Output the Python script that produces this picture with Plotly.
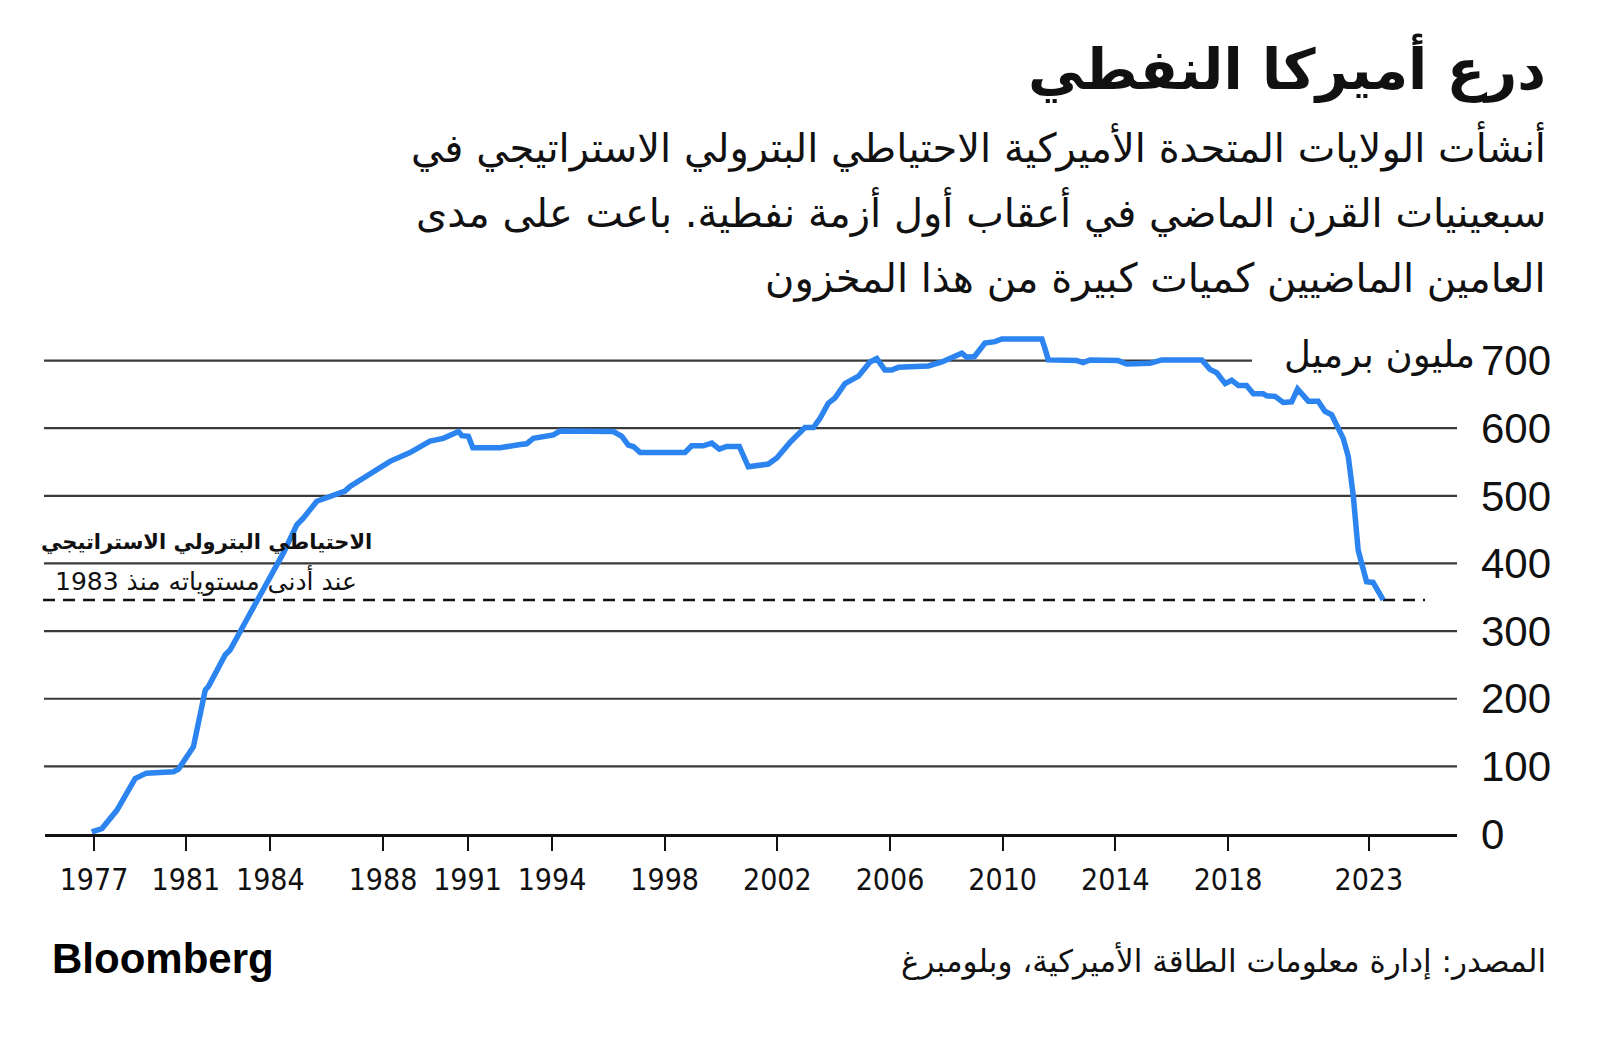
import plotly.graph_objects as go

# strategic petroleum reserve, million barrels
years = [
    1977.66, 1978.02, 1978.55, 1979.2, 1979.6, 1980.56, 1980.74, 1981.2, 1981.27, 1981.69,
    1981.8, 1982.4, 1982.57, 1983.28, 1983.52, 1984.1, 1984.47, 1984.94, 1985.17, 1985.65,
    1986.12, 1986.65, 1986.83, 1987.66, 1988.25, 1988.96, 1989.67, 1990.14, 1990.68, 1990.8,
    1991.03, 1991.19, 1992.16, 1992.87, 1993.1, 1993.34, 1994.05, 1994.29, 1996.18, 1996.48,
    1996.71, 1996.89, 1997.13, 1998.72, 1998.96, 1999.37, 1999.67, 1999.94, 2000.2, 2000.65,
    2000.97, 2001.68, 2001.98, 2002.45, 2002.98, 2003.28, 2003.52, 2003.81, 2004.05, 2004.4,
    2004.7, 2004.88, 2005.29, 2005.53, 2005.82, 2006.06, 2006.3, 2007.36, 2007.84, 2008.25,
    2008.55, 2008.72, 2009.0, 2009.37, 2009.73, 2009.97, 2011.39, 2011.5, 2011.62, 2012.63,
    2012.86, 2013.1, 2014.1, 2014.4, 2015.23, 2015.65, 2017.07, 2017.36, 2017.6, 2017.9,
    2018.13, 2018.37, 2018.66, 2018.9, 2019.25, 2019.37, 2019.67, 2019.96, 2020.26, 2020.47,
    2020.85, 2021.2, 2021.44, 2021.68, 2021.86, 2022.09, 2022.27, 2022.45, 2022.62, 2022.74,
    2022.92, 2023.15, 2023.51,
]
barrels = [
    3, 8, 35, 82, 90, 92, 96, 122, 129, 213,
    218, 265, 272, 326, 344, 390, 416, 457, 467, 492,
    500, 507, 514, 536, 551, 564, 581, 585, 595, 589,
    588, 571, 571, 576, 577, 585, 590, 596, 595, 588,
    575, 573, 564, 564, 574, 574, 578, 569, 573, 573,
    543, 547, 556, 579, 601, 601, 615, 637, 645, 666,
    674, 677, 698, 703, 686, 686, 690, 692, 698, 705,
    711, 705, 706, 726, 728, 732, 732, 718, 701, 700,
    697, 701, 700, 695, 696, 701, 701, 687, 682, 666,
    671, 663, 663, 651, 651, 648, 647, 638, 639, 658,
    640, 640, 625, 620, 603, 585, 558, 499, 420, 400,
    373, 372, 346,
]

x_tick_vals = [1977.74, 1981, 1984, 1988, 1991, 1994, 1998, 2002, 2006, 2010, 2014, 2018, 2023]
x_tick_text = ["1977", "1981", "1984", "1988", "1991", "1994", "1998", "2002", "2006", "2010", "2014", "2018", "2023"]
y_tick_vals = [0, 100, 200, 300, 400, 500, 600, 700]
current_level = 346

title = "درع أميركا النفطي"
subtitle_lines = [
    "أنشأت الولايات المتحدة الأميركية الاحتياطي البترولي الاستراتيجي في",
    "سبعينيات القرن الماضي في أعقاب أول أزمة نفطية. باعت على مدى",
    "العامين الماضيين كميات كبيرة من هذا المخزون",
]
unit_label = "مليون برميل"
note_lines = ["الاحتياطي البترولي الاستراتيجي", "عند أدنى مستوياته منذ 1983"]
source = "المصدر: إدارة معلومات الطاقة الأميركية، وبلومبرغ"

W, H = 1600, 1037
OFF = 8  # page body margin shifts the figure
# plot box in screen pixels
PX0, PX1, PY0, PY1 = 45, 1457, 320, 834
ML, MR, MT, MB = PX0 - OFF, W - (PX1 - OFF), PY0 - OFF, H - (PY1 - OFF)
arabic = "DejaVu Sans"
blue = "#2b84f0"
grid = "#3a3a3a"
ink = "#111111"


def px(x):
    return (x - PX0) / (PX1 - PX0)


def py(y):
    return (PY1 - y) / (PY1 - PY0)


fig = go.Figure()

# gridlines (700 is shortened to leave room for the unit label)
for v in y_tick_vals[1:]:
    fig.add_shape(type="line", xref="paper", yref="y", x0=px(44), x1=px(1252) if v == 700 else px(1457),
                  y0=v, y1=v, line=dict(color=grid, width=2.2), layer="below")

fig.add_shape(type="line", xref="paper", yref="y", x0=px(43), x1=px(1425),
              y0=current_level, y1=current_level,
              line=dict(color=ink, width=2.5, dash="12px,8px"), layer="below")

fig.add_trace(go.Scatter(
    x=years, y=barrels, mode="lines",
    line=dict(color=blue, width=5.5),
    hoverinfo="skip", showlegend=False,
))

fig.update_layout(
    width=W, height=H,
    paper_bgcolor="white", plot_bgcolor="white",
    margin=dict(l=ML, r=MR, t=MT, b=MB),
    xaxis=dict(
        range=[1976.0, 2026.13], tickvals=x_tick_vals, ticktext=x_tick_text,
        showgrid=False, zeroline=False, showline=True, linecolor=ink, linewidth=3,
        ticks="outside", ticklen=14, tickwidth=2, tickcolor=ink,
        tickfont=dict(family="DejaVu Sans Condensed, Liberation Sans", size=30, color=ink),
        ticklabelstandoff=3,
    ),
    yaxis=dict(
        range=[0, 760], tickvals=y_tick_vals, side="right",
        showgrid=False, zeroline=False, showline=False, ticks="",
        tickfont=dict(family="Liberation Sans", size=42, color=ink),
        ticklabelstandoff=23,
    ),
)


def text_right(txt, x, y, font):
    fig.add_annotation(xref="paper", yref="paper", xanchor="right", yanchor="middle",
                       x=px(x), y=py(y), text=txt, font=font, showarrow=False)


text_right(title, 1548, 68, dict(family=arabic, size=56, color=ink, weight="bold"))
for i, line in enumerate(subtitle_lines):
    text_right(line, 1548, 146 + 66 * i, dict(family=arabic, size=40, color=ink))
text_right(source, 1548, 961, dict(family=arabic, size=31, color=ink))

fig.add_annotation(xref="paper", yref="y", x=px(1477), y=700, xanchor="right", yanchor="middle", yshift=6,
                   text=unit_label, font=dict(family=arabic, size=37, color=ink), showarrow=False)

for txt, yy, sz, wt in zip(note_lines, [542, 580], [21, 25], ["bold", "normal"]):
    fig.add_annotation(xref="paper", yref="paper", x=px(206), y=py(yy),
                       xanchor="center", yanchor="middle", text=txt,
                       font=dict(family=arabic, size=sz, color=ink, weight=wt),
                       showarrow=False)

fig.add_annotation(xref="paper", yref="paper", x=px(50), y=py(958),
                   xanchor="left", yanchor="middle", text="<b>Bloomberg</b>",
                   font=dict(family="Liberation Sans", size=42, color="#000000"), showarrow=False)

fig.write_html("out.html")
